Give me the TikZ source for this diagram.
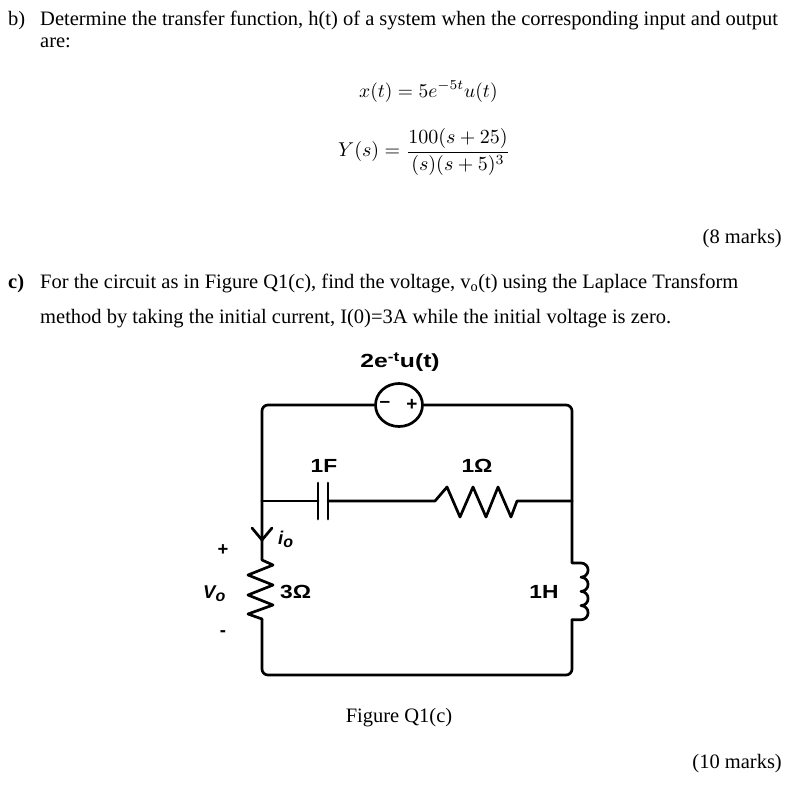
\documentclass[tikz,border=0pt]{standalone}
\usepackage{amsmath}
\usepackage{fontspec}
\setmainfont{Liberation Serif}
\newfontfamily\arialfont{Liberation Sans}
\usetikzlibrary{shapes.geometric}
\begin{document}
\begin{tikzpicture}[x=1pt,y=-1pt,
  wire/.style={line width=2.7pt, line join=round, line cap=round},
  body/.style={font=\fontsize{20.5}{24}\selectfont, inner sep=0pt},
  eq/.style={font=\fontsize{10}{12}\selectfont, inner sep=0pt},
  lab/.style={font=\arialfont\bfseries\fontsize{19}{22}\selectfont, inner sep=0pt},
  sublab/.style={font=\arialfont\bfseries\fontsize{18.5}{22}\selectfont, inner sep=0pt}]
\useasboundingbox (0,0) rectangle (801,787);
\fill[white] (0,0) rectangle (801,787);
% ---- text ----
\node[body, anchor=base west] (qb) at (8,25) {b)};
\node[body, anchor=base west] (qbt) at (40,25) {Determine the transfer function, h(t) of a system when the corresponding input and output};
\node[body, anchor=base west] (qb2) at (40,47) {are:};
\node[eq, anchor=base west] (xt) at (359,97) {\scalebox{1.95}{$x(t) = 5e^{-5t}u(t)$}};
\node[eq, anchor=west] (ys) at (338,152) {\scalebox{2}{$Y(s) = \dfrac{100(s+25)}{(s)(s+5)^3}$}};
\node[body, anchor=base east] (m8) at (782,243) {(8 marks)};
\node[body, anchor=base west] (qc) at (8,288) {\textbf{c)}};
\node[body, anchor=base west] (qct) at (40,288) {For the circuit as in Figure Q1(c), find the voltage, v\textsubscript{o}(t) using the Laplace Transform};
\node[body, anchor=base west] (qct2) at (40,323) {method by taking the initial current, I(0)=3A while the initial voltage is zero.};
\node[body, anchor=base] (fig) at (399,722) {Figure Q1(c)};
\node[body, anchor=base east] (m10) at (782,768) {(10 marks)};
% ---- circuit ----
\coordinate (tl) at (262,405);
\coordinate (tr) at (572,405);
\coordinate (bl) at (262,675);
\coordinate (br) at (572,675);
\coordinate (jl) at (262,501);
\coordinate (jr) at (572,501);
\node[draw, ellipse, line width=2.7pt, minimum width=47pt, minimum height=43pt, inner sep=0pt] (src) at (399,405) {};
\node[lab] (lsrc) at (400,362) {\scalebox{1.3}[1]{2e\textsuperscript{-t}u(t)}};
\node[lab] (sm) at (385,404) {–};
\node[lab] (sp) at (412,405) {+};
\draw[wire, rounded corners=6pt] (jl) -- (tl) -- (src.west);
\draw[wire, rounded corners=6pt] (src.east) -- (tr) -- (jr);
% capacitor + 1 ohm branch
\draw[wire] (jl) -- (318,501);
\draw[wire] (318,483) -- (318,519);
\draw[wire] (328,483) -- (328,519);
\draw[wire] (328,501) -- (435,501) -- (447,487) -- (460,517) -- (473,487) -- (486,517) -- (498,487) -- (511,517) -- (517,501) -- (jr);
\node[lab] (l1f) at (324,466) {\scalebox{1.2}[1]{1F}};
\node[lab] (l1o) at (477,466) {\scalebox{1.2}[1]{1Ω}};
% right side with inductor
\draw[wire] (jr) -- (572,563) -- (581,563)
  arc[start angle=90, end angle=-90, radius=7.1pt]
  arc[start angle=90, end angle=-90, radius=7.1pt]
  arc[start angle=90, end angle=-90, radius=7.1pt]
  arc[start angle=90, end angle=-90, radius=7.1pt]
  -- (572,619.8);
\draw[wire, rounded corners=6pt] (572,619.8) -- (br) -- (bl) -- (262,619);
\node[lab] (l1h) at (544,592) {\scalebox{1.2}[1]{1H}};
% left side with 3 ohm
\draw[wire] (262,619) -- (248,614) -- (273,605) -- (248,595) -- (273,585) -- (248,575) -- (273,565) -- (262,560) -- (jl);
\draw[wire] (252,528) -- (262,540) -- (272,528);
\node[lab, anchor=west] (l3o) at (280,592) {\scalebox{1.2}[1]{3Ω}};
\node[sublab, anchor=base west] (lio) at (278,544) {\itshape i\raisebox{-0.35ex}{\fontsize{16}{16}\selectfont o}};
\node[sublab, anchor=base west] (lvo) at (203,598) {\itshape V\raisebox{-0.35ex}{\fontsize{16}{16}\selectfont o}};
\node[sublab] (lp) at (223,550) {+};
\node[sublab] (lm) at (223,634) {-};
\end{tikzpicture}
\end{document}
